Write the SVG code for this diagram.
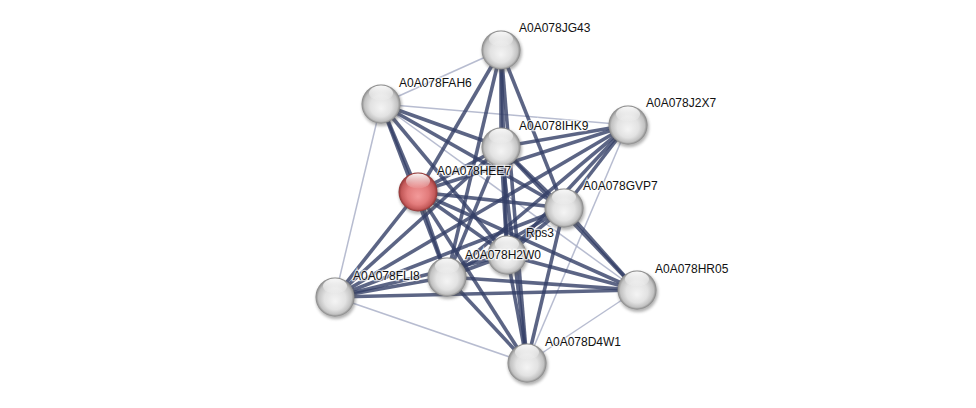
<svg xmlns="http://www.w3.org/2000/svg" width="976" height="408" viewBox="0 0 976 408">
<defs>
<radialGradient id="gw" cx="0.5" cy="0.5" r="0.5" fx="0.5" fy="0.62">
<stop offset="0" stop-color="#f4f4f4"/>
<stop offset="0.55" stop-color="#e2e2e2"/>
<stop offset="0.85" stop-color="#c2c2c2"/>
<stop offset="1" stop-color="#858585"/>
</radialGradient>
<radialGradient id="gr" cx="0.5" cy="0.5" r="0.5" fx="0.5" fy="0.62">
<stop offset="0" stop-color="#f39a9a"/>
<stop offset="0.55" stop-color="#e27b7b"/>
<stop offset="0.85" stop-color="#c45a5a"/>
<stop offset="1" stop-color="#8e3434"/>
</radialGradient>
<linearGradient id="hl" x1="0" y1="0" x2="0" y2="1">
<stop offset="0" stop-color="#ffffff" stop-opacity="0.95"/>
<stop offset="1" stop-color="#ffffff" stop-opacity="0.05"/>
</linearGradient>
<filter id="sh" x="-50%" y="-50%" width="200%" height="200%">
<feGaussianBlur stdDeviation="1.5"/>
</filter>
</defs>
<style>
.t{stroke:#333e66;stroke-width:3.6;stroke-opacity:0.8;fill:none}
.n{stroke:#aab0c8;stroke-width:1.5;stroke-opacity:0.85;fill:none}
.s{fill:#555;opacity:0.45}
.lb{font-family:"Liberation Sans",Arial,sans-serif;font-size:12px;fill:#111;stroke:#ffffff;stroke-width:2.5;stroke-opacity:0.7;paint-order:stroke}
</style>
<rect width="976" height="408" fill="#ffffff"/>
<g id="edges">
<line class="n" x1="501" y1="50" x2="381" y2="104"/>
<line class="n" x1="381" y1="104" x2="628" y2="125"/>
<line class="n" x1="381" y1="104" x2="335" y2="297"/>
<line class="n" x1="381" y1="104" x2="637" y2="290"/>
<line class="n" x1="335" y1="297" x2="527" y2="363"/>
<line class="n" x1="527" y1="363" x2="637" y2="290"/>
<line class="n" x1="628" y1="125" x2="527" y2="363"/>
<line class="t" x1="501" y1="50" x2="418" y2="192"/>
<line class="t" x1="501" y1="50" x2="501" y2="147"/>
<line class="t" x1="501" y1="50" x2="507" y2="255"/>
<line class="t" x1="501" y1="50" x2="527" y2="363"/>
<line class="t" x1="501" y1="50" x2="564" y2="208"/>
<line class="t" x1="501" y1="50" x2="447" y2="277"/>
<line class="t" x1="381" y1="104" x2="418" y2="192"/>
<line class="t" x1="381" y1="104" x2="501" y2="147"/>
<line class="t" x1="381" y1="104" x2="564" y2="208"/>
<line class="t" x1="381" y1="104" x2="507" y2="255"/>
<line class="t" x1="381" y1="104" x2="447" y2="277"/>
<line class="t" x1="501" y1="147" x2="628" y2="125"/>
<line class="t" x1="501" y1="147" x2="418" y2="192"/>
<line class="t" x1="501" y1="147" x2="564" y2="208"/>
<line class="t" x1="501" y1="147" x2="507" y2="255"/>
<line class="t" x1="501" y1="147" x2="527" y2="363"/>
<line class="t" x1="501" y1="147" x2="447" y2="277"/>
<line class="t" x1="501" y1="147" x2="335" y2="297"/>
<line class="t" x1="501" y1="147" x2="637" y2="290"/>
<line class="t" x1="628" y1="125" x2="418" y2="192"/>
<line class="t" x1="628" y1="125" x2="564" y2="208"/>
<line class="t" x1="628" y1="125" x2="507" y2="255"/>
<line class="t" x1="628" y1="125" x2="447" y2="277"/>
<line class="t" x1="628" y1="125" x2="335" y2="297"/>
<line class="t" x1="418" y1="192" x2="564" y2="208"/>
<line class="t" x1="418" y1="192" x2="507" y2="255"/>
<line class="t" x1="418" y1="192" x2="447" y2="277"/>
<line class="t" x1="418" y1="192" x2="335" y2="297"/>
<line class="t" x1="418" y1="192" x2="637" y2="290"/>
<line class="t" x1="418" y1="192" x2="527" y2="363"/>
<line class="t" x1="564" y1="208" x2="507" y2="255"/>
<line class="t" x1="564" y1="208" x2="447" y2="277"/>
<line class="t" x1="564" y1="208" x2="335" y2="297"/>
<line class="t" x1="564" y1="208" x2="637" y2="290"/>
<line class="t" x1="564" y1="208" x2="527" y2="363"/>
<line class="t" x1="507" y1="255" x2="447" y2="277"/>
<line class="t" x1="507" y1="255" x2="335" y2="297"/>
<line class="t" x1="507" y1="255" x2="637" y2="290"/>
<line class="t" x1="507" y1="255" x2="527" y2="363"/>
<line class="t" x1="447" y1="277" x2="335" y2="297"/>
<line class="t" x1="447" y1="277" x2="637" y2="290"/>
<line class="t" x1="447" y1="277" x2="527" y2="363"/>
<line class="t" x1="335" y1="297" x2="637" y2="290"/>
</g>
<g id="n-JG43"><circle class="s" cx="502" cy="52" r="20" filter="url(#sh)"/><circle cx="501" cy="50" r="19.5" fill="url(#gw)"/><ellipse cx="501" cy="39" rx="12" ry="7.5" fill="url(#hl)"/></g>
<g id="n-FAH6"><circle class="s" cx="382" cy="106" r="20" filter="url(#sh)"/><circle cx="381" cy="104" r="19.5" fill="url(#gw)"/><ellipse cx="381" cy="93" rx="12" ry="7.5" fill="url(#hl)"/></g>
<g id="n-J2X7"><circle class="s" cx="629" cy="127" r="20" filter="url(#sh)"/><circle cx="628" cy="125" r="19.5" fill="url(#gw)"/><ellipse cx="628" cy="114" rx="12" ry="7.5" fill="url(#hl)"/></g>
<g id="n-IHK9"><circle class="s" cx="502" cy="149" r="20" filter="url(#sh)"/><circle cx="501" cy="147" r="19.5" fill="url(#gw)"/><ellipse cx="501" cy="136" rx="12" ry="7.5" fill="url(#hl)"/></g>
<g id="n-HEE7"><circle class="s" cx="419" cy="194" r="20" filter="url(#sh)"/><circle cx="418" cy="192" r="19.5" fill="url(#gr)"/><ellipse cx="418" cy="181" rx="12" ry="7.5" fill="url(#hl)"/></g>
<g id="n-GVP7"><circle class="s" cx="565" cy="210" r="20" filter="url(#sh)"/><circle cx="564" cy="208" r="19.5" fill="url(#gw)"/><ellipse cx="564" cy="197" rx="12" ry="7.5" fill="url(#hl)"/></g>
<g id="n-Rps3"><circle class="s" cx="508" cy="257" r="20" filter="url(#sh)"/><circle cx="507" cy="255" r="19.5" fill="url(#gw)"/><ellipse cx="507" cy="244" rx="12" ry="7.5" fill="url(#hl)"/></g>
<g id="n-H2W0"><circle class="s" cx="448" cy="279" r="20" filter="url(#sh)"/><circle cx="447" cy="277" r="19.5" fill="url(#gw)"/><ellipse cx="447" cy="266" rx="12" ry="7.5" fill="url(#hl)"/></g>
<g id="n-FLI8"><circle class="s" cx="336" cy="299" r="20" filter="url(#sh)"/><circle cx="335" cy="297" r="19.5" fill="url(#gw)"/><ellipse cx="335" cy="286" rx="12" ry="7.5" fill="url(#hl)"/></g>
<g id="n-HR05"><circle class="s" cx="638" cy="292" r="20" filter="url(#sh)"/><circle cx="637" cy="290" r="19.5" fill="url(#gw)"/><ellipse cx="637" cy="279" rx="12" ry="7.5" fill="url(#hl)"/></g>
<g id="n-D4W1"><circle class="s" cx="528" cy="365" r="20" filter="url(#sh)"/><circle cx="527" cy="363" r="19.5" fill="url(#gw)"/><ellipse cx="527" cy="352" rx="12" ry="7.5" fill="url(#hl)"/></g>
<g id="labels">
<text class="lb" x="519" y="32">A0A078JG43</text>
<text class="lb" x="399" y="87">A0A078FAH6</text>
<text class="lb" x="646" y="107">A0A078J2X7</text>
<text class="lb" x="519" y="130">A0A078IHK9</text>
<text class="lb" x="437" y="175">A0A078HEE7</text>
<text class="lb" x="583" y="190">A0A078GVP7</text>
<text class="lb" x="526" y="237">Rps3</text>
<text class="lb" x="465" y="259">A0A078H2W0</text>
<text class="lb" x="353" y="280">A0A078FLI8</text>
<text class="lb" x="655" y="273">A0A078HR05</text>
<text class="lb" x="545" y="346">A0A078D4W1</text>
</g>
</svg>
